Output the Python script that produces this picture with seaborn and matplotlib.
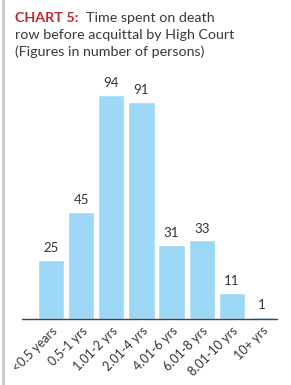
import matplotlib
matplotlib.use("Agg")
import matplotlib.pyplot as plt
import seaborn as sns
import pandas as pd

#Chart data
categories = ["<0.5 years", "0.5-1 yrs", "1.01-2 yrs", "2.01-4 yrs",
              "4.01-6 yrs", "6.01-8 yrs", "8.01-10 yrs", "10+ yrs"]
persons = [25, 45, 94, 91, 31, 33, 11, 1]

df = pd.DataFrame({"period": categories, "persons": persons})

sns.set_style("white")
plt.rcParams["font.family"] = ["Lato", "DejaVu Sans"]

fig = plt.figure(figsize=(2.91, 3.85), dpi=100)
ax = fig.add_axes([36 / 291, 1 - 319 / 385, 241 / 291, 238 / 385])

sns.barplot(data=df, x="period", y="persons", color="#9dd9f6",
            saturation=1, width=0.87, ax=ax)

ax.set_ylim(0, 100)
ax.set_xlim(-0.5, len(categories) - 0.5)
ax.set_xlabel("")
ax.set_ylabel("")
ax.set_yticks([])
sns.despine(ax=ax, left=True, right=True, top=True, bottom=True)

#Value labels above bars
for i, v in enumerate(persons):
    ax.text(i, v + 2.5, str(v), ha="center", va="bottom",
            fontsize=9.5, color="#333333")

#Rotated category labels
ax.set_xticks(range(len(categories)))
ax.set_xticklabels(categories, rotation=45, ha="right",
                   rotation_mode="anchor", fontsize=9, color="#333333")
ax.tick_params(axis="x", length=0, pad=4)

#Baseline
fig.add_artist(plt.Line2D([22 / 291, 277 / 291], [1 - 319 / 385] * 2,
                          color="#444444", lw=1))

#Left frame rule
fig.add_artist(plt.Line2D([3 / 291, 3 / 291], [0, 1],
                          color="#c8c8c8", lw=2))

#Title
fig.text(15 / 291, 1 - 18 / 385, "CHART 5:", fontsize=10.3, fontweight="bold",
         color="#c0272d", va="center")
fig.text(86 / 291, 1 - 18 / 385, "Time spent on death", fontsize=10.3,
         color="#3a3a3a", va="center")
fig.text(15 / 291, 1 - 35 / 385, "row before acquittal by High Court",
         fontsize=10.3, color="#3a3a3a", va="center")
fig.text(15 / 291, 1 - 52 / 385, "(Figures in number of persons)",
         fontsize=10.3, color="#3a3a3a", va="center")

plt.savefig("out.png", dpi=100)
